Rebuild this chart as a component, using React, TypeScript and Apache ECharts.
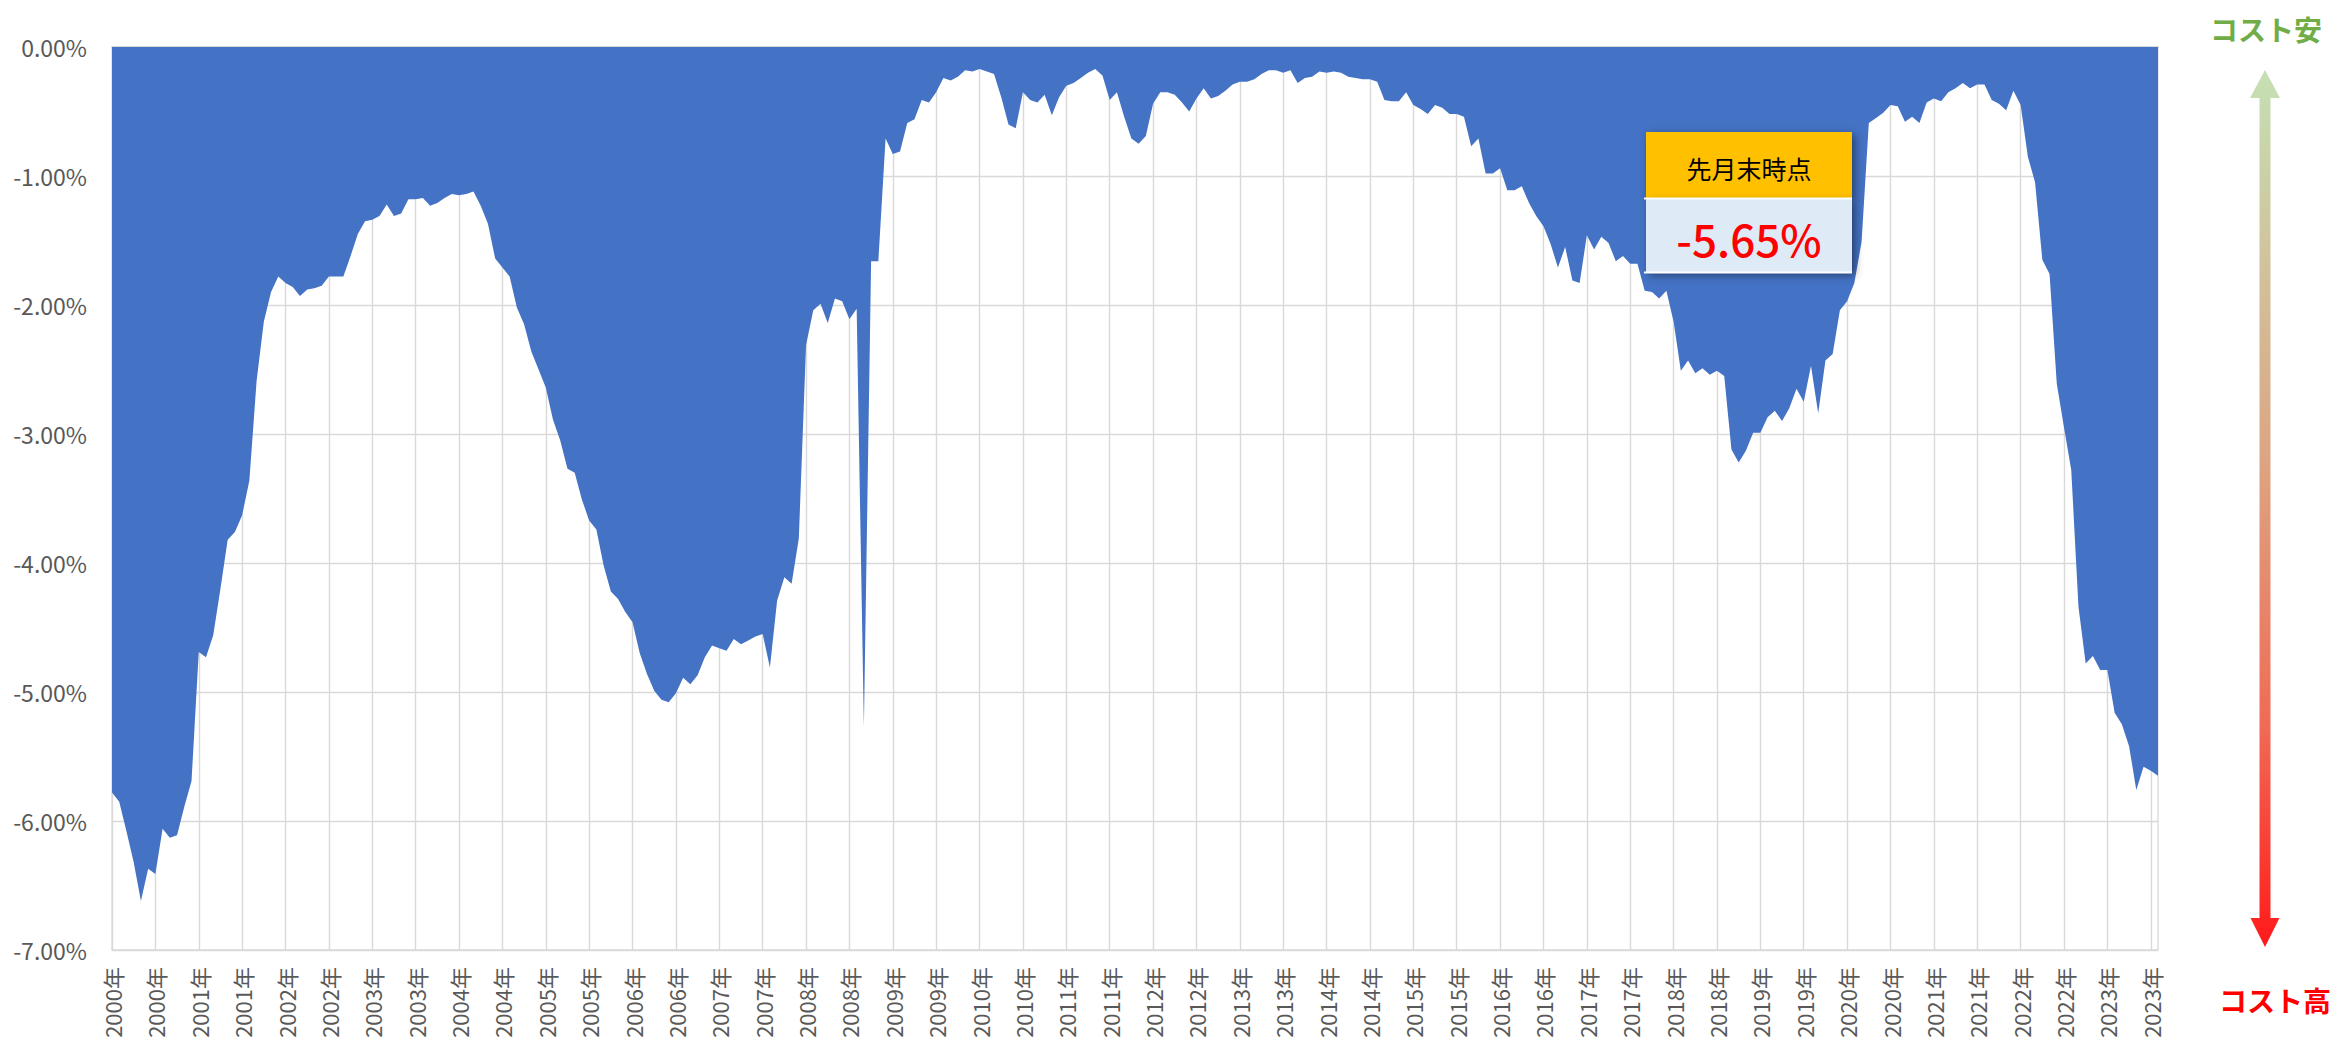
import React, { useEffect, useRef } from "react";
import * as echarts from "echarts";

// ---- Data (monthly, Jan 2000 – Aug 2023) ----
const START_YEAR = 2000;
const MONTH_COUNT = 284;
const categories: string[] = [];
for (let i = 0; i < MONTH_COUNT; i++) {
  const y = START_YEAR + Math.floor(i / 12);
  const m = (i % 12) + 1;
  categories.push(`${y}-${m < 10 ? "0" + m : m}`);
}

const values2000to2005 = [
  -5.78, -5.85, -6.08, -6.32, -6.62, -6.37, -6.41, -6.06, -6.13, -6.11, -5.89, -5.69,
  -4.69, -4.73, -4.56, -4.2, -3.82, -3.76, -3.63, -3.36, -2.59, -2.13, -1.9, -1.78,
  -1.83, -1.86, -1.93, -1.88, -1.87, -1.85, -1.78, -1.78, -1.78, -1.62, -1.45, -1.35,
  -1.34, -1.31, -1.22, -1.31, -1.29, -1.18, -1.18, -1.17, -1.23, -1.21, -1.17, -1.14,
  -1.15, -1.14, -1.12, -1.23, -1.37, -1.64, -1.71, -1.78, -2.02, -2.15, -2.36, -2.5,
  -2.64, -2.89, -3.05, -3.27, -3.3, -3.51, -3.67, -3.74, -4.02, -4.22, -4.28, -4.38,
];
const values2006to2011 = [
  -4.46, -4.7, -4.86, -4.99, -5.06, -5.08, -5.01, -4.89, -4.94, -4.87, -4.73, -4.64,
  -4.66, -4.68, -4.59, -4.63, -4.6, -4.57, -4.55, -4.81, -4.29, -4.11, -4.16, -3.81,
  -2.31, -2.04, -1.99, -2.14, -1.95, -1.97, -2.11, -2.03, -5.27, -1.66, -1.66, -0.71,
  -0.83, -0.81, -0.59, -0.56, -0.41, -0.43, -0.35, -0.24, -0.26, -0.23, -0.18, -0.19,
  -0.17, -0.19, -0.21, -0.39, -0.6, -0.63, -0.35, -0.41, -0.43, -0.37, -0.53, -0.39,
  -0.3, -0.28, -0.24, -0.2, -0.17, -0.22, -0.41, -0.35, -0.54, -0.71, -0.75, -0.69,
];
const values2012to2017 = [
  -0.44, -0.35, -0.35, -0.37, -0.43, -0.5, -0.4, -0.32, -0.4, -0.38, -0.34, -0.29,
  -0.27, -0.27, -0.25, -0.21, -0.18, -0.18, -0.2, -0.18, -0.28, -0.24, -0.23, -0.19,
  -0.2, -0.19, -0.2, -0.23, -0.24, -0.25, -0.25, -0.27, -0.41, -0.42, -0.42, -0.35,
  -0.45, -0.48, -0.52, -0.45, -0.47, -0.52, -0.52, -0.54, -0.77, -0.71, -0.98, -0.98,
  -0.94, -1.11, -1.11, -1.08, -1.21, -1.31, -1.39, -1.53, -1.71, -1.55, -1.81, -1.83,
  -1.46, -1.57, -1.47, -1.52, -1.66, -1.62, -1.68, -1.68, -1.89, -1.9, -1.95, -1.89,
];
const values2018to2023 = [
  -2.13, -2.51, -2.43, -2.53, -2.49, -2.54, -2.51, -2.55, -3.12, -3.22, -3.13, -2.99,
  -2.99, -2.87, -2.82, -2.9, -2.8, -2.65, -2.75, -2.47, -2.84, -2.43, -2.38, -2.04,
  -1.97, -1.83, -1.51, -0.59, -0.55, -0.51, -0.45, -0.46, -0.58, -0.54, -0.59, -0.43,
  -0.4, -0.42, -0.35, -0.32, -0.28, -0.32, -0.29, -0.29, -0.41, -0.44, -0.49, -0.34,
  -0.45, -0.85, -1.05, -1.65, -1.76, -2.61, -2.95, -3.28, -4.34, -4.78, -4.72, -4.83,
  -4.83, -5.16, -5.25, -5.42, -5.76, -5.58, -5.61, -5.65,
];
const values = [
  ...values2000to2005,
  ...values2006to2011,
  ...values2012to2017,
  ...values2018to2023,
];

const Y_MIN = -7;
const Y_MAX = 0;
const Y_STEP = 1;
const boxTitle = "先月末時点";
const topLabel = "コスト安";
const bottomLabel = "コスト高";

const FONT = "'Noto Sans CJK JP', 'Noto Sans', sans-serif";

export default function App() {
  const ref = useRef<HTMLDivElement | null>(null);

  useEffect(() => {
    if (!ref.current) return;
    const chart = echarts.init(ref.current, undefined, { renderer: "svg" });
    const lastValue = values[values.length - 1];

    const arrowGradient = new echarts.graphic.LinearGradient(0, 0, 0, 1, [
      { offset: 0, color: "#C5E0B4" },
      { offset: 0.45, color: "#DDA482" },
      { offset: 0.75, color: "#F06A55" },
      { offset: 1, color: "#FF1A1A" },
    ]);

    const shadow = {
      shadowBlur: 8,
      shadowColor: "rgba(0,0,0,0.45)",
      shadowOffsetX: 3,
      shadowOffsetY: 3,
    };

    chart.setOption({
      animation: false,
      backgroundColor: "#ffffff",
      textStyle: { fontFamily: FONT },
      grid: {
        left: 112,
        right: 172,
        top: 47,
        bottom: 92,
        show: true,
        borderColor: "#D9D9D9",
        borderWidth: 1.3,
        backgroundColor: "transparent",
      },
      xAxis: {
        type: "category",
        data: categories,
        boundaryGap: false,
        axisLine: { show: true, lineStyle: { color: "#D9D9D9", width: 1.5 } },
        axisTick: { show: false },
        axisLabel: {
          interval: 5,
          rotate: 90,
          margin: 17,
          color: "#595959",
          fontSize: 22,
          fontFamily: FONT,
          formatter: (v: string) => v.slice(0, 4) + "年",
        },
        splitLine: {
          show: true,
          interval: 5,
          lineStyle: { color: "#D9D9D9", width: 1.4 },
        },
      },
      yAxis: {
        type: "value",
        min: Y_MIN,
        max: Y_MAX,
        interval: Y_STEP,
        axisLine: { show: false },
        axisTick: { show: false },
        axisLabel: {
          margin: 25,
          color: "#595959",
          fontSize: 23,
          fontFamily: FONT,
          formatter: (v: number) => v.toFixed(2) + "%",
        },
        splitLine: { show: true, lineStyle: { color: "#D9D9D9", width: 1.4 } },
      },
      series: [
        {
          type: "line",
          data: values,
          symbol: "none",
          showSymbol: false,
          silent: true,
          lineStyle: { width: 0, color: "#4472C4" },
          areaStyle: { color: "#4472C4", opacity: 1 },
        },
      ],
      graphic: [
        // annotation box
        {
          type: "rect",
          shape: { x: 1646, y: 132, width: 206, height: 66 },
          style: { fill: "#FFC000", ...shadow },
          z: 100,
        },
        {
          type: "rect",
          shape: { x: 1646, y: 199, width: 206, height: 73 },
          style: { fill: "#DEEBF7", ...shadow },
          z: 100,
        },
        {
          type: "line",
          shape: { x1: 1644, y1: 198.5, x2: 1852, y2: 198.5 },
          style: { stroke: "#ffffff", lineWidth: 2 },
          z: 101,
        },
        {
          type: "line",
          shape: { x1: 1644, y1: 272.5, x2: 1852, y2: 272.5 },
          style: { stroke: "#ffffff", lineWidth: 2 },
          z: 101,
        },
        {
          type: "text",
          x: 1749,
          y: 168,
          z: 102,
          style: {
            text: boxTitle,
            fill: "#000000",
            fontSize: 25,
            fontFamily: FONT,
            align: "center",
            verticalAlign: "middle",
          },
        },
        {
          type: "text",
          x: 1749,
          y: 238,
          z: 102,
          style: {
            text: lastValue.toFixed(2) + "%",
            fill: "#FF0000",
            fontSize: 44,
            fontWeight: 500,
            fontFamily: FONT,
            align: "center",
            verticalAlign: "middle",
          },
        },
        // gradient double arrow
        {
          type: "polygon",
          shape: {
            points: [
              [2265, 70],
              [2280, 98],
              [2270.5, 98],
              [2270.5, 918],
              [2279.5, 918],
              [2265, 947],
              [2250.5, 918],
              [2259.5, 918],
              [2259.5, 98],
              [2250, 98],
            ],
          },
          style: { fill: arrowGradient },
          z: 100,
        },
        {
          type: "text",
          x: 2266,
          y: 29,
          z: 102,
          style: {
            text: topLabel,
            fill: "#70AD47",
            fontSize: 28,
            fontWeight: "bold",
            fontFamily: FONT,
            align: "center",
            verticalAlign: "middle",
          },
        },
        {
          type: "text",
          x: 2219,
          y: 1000,
          z: 102,
          style: {
            text: bottomLabel,
            fill: "#FF0000",
            fontSize: 28,
            fontWeight: "bold",
            fontFamily: FONT,
            align: "left",
            verticalAlign: "middle",
          },
        },
      ],
    });

    return () => {
      chart.dispose();
    };
  }, []);

  return (
    <div
      ref={ref}
      style={{
        position: "fixed",
        left: 0,
        top: 0,
        width: 2330,
        height: 1042,
        background: "#ffffff",
      }}
    />
  );
}
